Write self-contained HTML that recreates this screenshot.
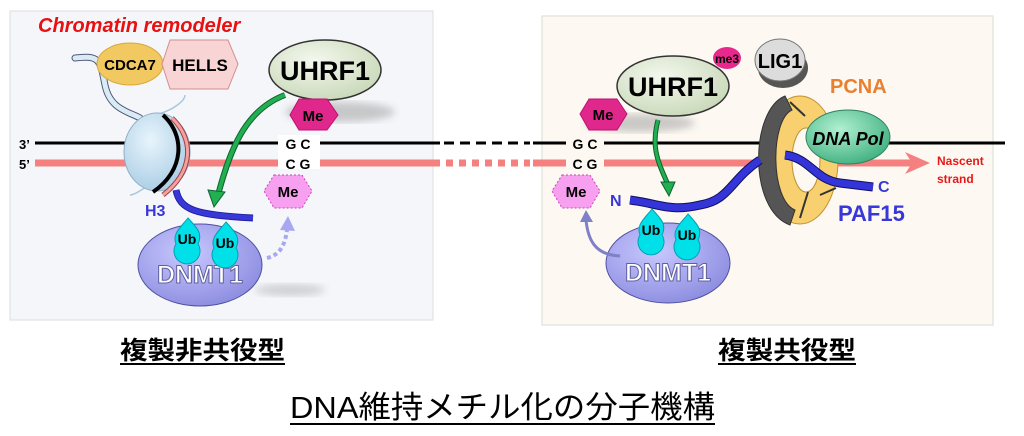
<!DOCTYPE html>
<html><head><meta charset="utf-8"><style>
html,body{margin:0;padding:0;background:#fff;}
svg{display:block;}
text{font-family:"Liberation Sans","Noto Sans CJK JP",sans-serif;}
</style></head><body>
<svg width="1024" height="436" viewBox="0 0 1024 436" xmlns="http://www.w3.org/2000/svg">
<defs>
<radialGradient id="gU" cx="40%" cy="35%" r="70%"><stop offset="0" stop-color="#f4f8ee"/><stop offset="1" stop-color="#c8d8b8"/></radialGradient>
<radialGradient id="gD" cx="40%" cy="35%" r="70%"><stop offset="0" stop-color="#c8c8ff"/><stop offset="1" stop-color="#8c8ce0"/></radialGradient>
<radialGradient id="gP" cx="40%" cy="35%" r="70%"><stop offset="0" stop-color="#b0f0d0"/><stop offset="1" stop-color="#40b080"/></radialGradient>
<radialGradient id="gN" cx="40%" cy="35%" r="70%"><stop offset="0" stop-color="#e8f4fc"/><stop offset="1" stop-color="#a8cce4"/></radialGradient>
<filter id="bl"><feGaussianBlur stdDeviation="4"/></filter>
</defs>
<rect x="10" y="11" width="423" height="309" fill="#f5f6fa" stroke="#dcdde2"/>
<rect x="542" y="16" width="451" height="309" fill="#fdf9f2" stroke="#dcdad6"/>

<line x1="35" y1="143" x2="440" y2="143" stroke="#000" stroke-width="3"/>
<line x1="444" y1="143" x2="530" y2="143" stroke="#000" stroke-width="3" stroke-dasharray="10,6"/>
<line x1="533" y1="143" x2="1005" y2="143" stroke="#000" stroke-width="3"/>
<line x1="35" y1="163" x2="440" y2="163" stroke="#f48080" stroke-width="7"/>
<line x1="446" y1="163" x2="530" y2="163" stroke="#f48080" stroke-width="7" stroke-dasharray="7,6"/>
<line x1="533" y1="163" x2="915" y2="163" stroke="#f48080" stroke-width="7"/>
<polygon points="905,152 930,163 905,174 912,163" fill="#f48080"/>
<text x="19" y="149" font-size="13" font-weight="bold">3’</text>
<text x="19" y="169" font-size="13" font-weight="bold">5’</text>

<text x="38" y="32" font-size="20" font-weight="bold" font-style="italic" fill="#e81010">Chromatin remodeler</text>
<path d="M75,58 C100,55 100,60 105,85 C110,110 130,112 140,118" fill="none" stroke="#557" stroke-width="7" stroke-linecap="round"/>
<path d="M75,58 C100,55 100,60 105,85 C110,110 130,112 140,118" fill="none" stroke="#d8ecf6" stroke-width="5" stroke-linecap="round"/>
<ellipse cx="130" cy="64" rx="33" ry="21" fill="#f2c860" stroke="#d8a840"/>
<text x="130" y="70" font-size="15" font-weight="bold" text-anchor="middle">CDCA7</text>
<polygon points="170,40 228,40 238,64 228,89 170,89 162,64" fill="#f8d4d4" stroke="#d09090"/>
<text x="200" y="71" font-size="17" font-weight="bold" text-anchor="middle">HELLS</text>
<path d="M155,115 C175,110 185,100 185,95" stroke="#a8c8dc" stroke-width="1.5" fill="none"/>
<path d="M150,185 C140,190 135,195 130,195" stroke="#a8c8dc" stroke-width="1.5" fill="none"/>
<ellipse cx="157" cy="152" rx="33" ry="39" fill="url(#gN)" stroke="#90b0c8"/>
<path d="M163,115 C185,135 185,170 153,192" fill="none" stroke="#000" stroke-width="4"/>
<path d="M172,118 C195,140 193,172 163,195" fill="none" stroke="#a04040" stroke-width="5"/>
<path d="M172,118 C195,140 193,172 163,195" fill="none" stroke="#f4a0a0" stroke-width="3"/>
<path d="M176,190 C180,210 195,215 253,218" fill="none" stroke="#2020a0" stroke-width="7"/>
<path d="M176,190 C180,210 195,215 253,218" fill="none" stroke="#3838d8" stroke-width="5"/>
<text x="145" y="216" font-size="16" font-weight="bold" fill="#3838d8">H3</text>
<ellipse cx="340" cy="112" rx="55" ry="10" fill="#999" opacity="0.5" filter="url(#bl)"/>
<ellipse cx="325" cy="70" rx="56" ry="30" fill="url(#gU)" stroke="#333" stroke-width="1.5"/>
<text x="325" y="80" font-size="27" font-weight="bold" text-anchor="middle">UHRF1</text>
<polygon points="299,99 327,99 338,115 327,130 299,130 290,115" fill="#e0288c" stroke="#c01070"/>
<text x="313" y="121" font-size="15" font-weight="bold" text-anchor="middle">Me</text>
<rect x="278" y="135" width="42" height="34" fill="#fff"/>
<text x="298" y="149" font-size="14" font-weight="bold" text-anchor="middle">G C</text>
<text x="298" y="169" font-size="14" font-weight="bold" text-anchor="middle">C G</text>
<polygon points="274,175 302,175 312,191 302,208 274,208 264,191" fill="#f8a0f0" stroke="#d040c0" stroke-dasharray="2,2"/>
<text x="288" y="197" font-size="15" font-weight="bold" text-anchor="middle">Me</text>
<path d="M285,95 C245,110 230,150 218,195" fill="none" stroke="#106030" stroke-width="6"/>
<path d="M285,95 C245,110 230,150 218,195" fill="none" stroke="#20b050" stroke-width="4"/>
<polygon points="208,190 225,192 214,207" fill="#20b050" stroke="#106030"/>
<ellipse cx="290" cy="290" rx="35" ry="6" fill="#999" opacity="0.4" filter="url(#bl)"/>
<ellipse cx="200" cy="265" rx="62" ry="41" fill="url(#gD)" stroke="#5050a0"/>
<text x="200" y="283" font-size="25" font-weight="bold" text-anchor="middle" fill="#fff" stroke="#6060a0" stroke-width="1">DNMT1</text>
<path d="M188,218 C197,228 203,233 198,244 A13,13 0 1 1 176,244 C172,234 180,228 188,218Z" fill="#00e0e8" stroke="#00a0b0"/>
<text x="187" y="244" font-size="14" font-weight="bold" text-anchor="middle">Ub</text>
<path d="M226,222 C235,232 241,237 236,248 A13,13 0 1 1 214,248 C210,238 218,232 226,222Z" fill="#00e0e8" stroke="#00a0b0"/>
<text x="225" y="248" font-size="14" font-weight="bold" text-anchor="middle">Ub</text>
<path d="M267,258 C280,255 285,245 287,230" fill="none" stroke="#a8a8f0" stroke-width="4" stroke-dasharray="4,3"/>
<polygon points="280,230 288,216 295,231" fill="#a8a8f0"/>

<ellipse cx="640" cy="123" rx="55" ry="9" fill="#999" opacity="0.5" filter="url(#bl)"/>
<ellipse cx="783" cy="68" rx="25" ry="20" fill="#555"/>
<ellipse cx="780" cy="60" rx="25" ry="21" fill="#dcdcdc" stroke="#777"/>
<text x="780" y="68" font-size="20" font-weight="bold" text-anchor="middle">LIG1</text>
<ellipse cx="727" cy="58" rx="14" ry="11" fill="#e8288c"/>
<text x="727" y="63" font-size="12" font-weight="bold" text-anchor="middle">me3</text>
<ellipse cx="673" cy="86" rx="56" ry="30" fill="url(#gU)" stroke="#333" stroke-width="1.5"/>
<text x="673" y="96" font-size="27" font-weight="bold" text-anchor="middle">UHRF1</text>
<polygon points="589,99 617,99 627,114 617,130 589,130 580,114" fill="#e0288c" stroke="#c01070"/>
<text x="603" y="120" font-size="15" font-weight="bold" text-anchor="middle">Me</text>
<rect x="566" y="135" width="38" height="34" fill="#fdf9f2"/>
<text x="585" y="149" font-size="14" font-weight="bold" text-anchor="middle">G C</text>
<text x="585" y="169" font-size="14" font-weight="bold" text-anchor="middle">C G</text>
<polygon points="562,175 590,175 600,191 590,208 562,208 552,191" fill="#f8a0f0" stroke="#d040c0" stroke-dasharray="2,2"/>
<text x="576" y="197" font-size="15" font-weight="bold" text-anchor="middle">Me</text>
<text x="610" y="206" font-size="16" font-weight="bold" fill="#3838d8">N</text>
<text x="830" y="93" font-size="20" font-weight="bold" fill="#e88030">PCNA</text>
<ellipse cx="800" cy="160" rx="38" ry="64" fill="#f8d070" stroke="#c09030"/>
<ellipse cx="806" cy="160" rx="14" ry="32" fill="#fdf9f2" stroke="#c09030"/>
<path d="M785,96 C750,110 748,210 790,225 L795,210 C770,200 770,120 792,110Z" fill="#555" stroke="#333"/>
<line x1="790" y1="102" x2="805" y2="116" stroke="#333" stroke-width="2"/>
<line x1="800" y1="218" x2="808" y2="192" stroke="#333" stroke-width="2"/>
<line x1="820" y1="195" x2="836" y2="188" stroke="#333" stroke-width="2"/>
<path d="M630,200 C660,204 670,212 700,205 C730,200 730,180 760,160" fill="none" stroke="#101060" stroke-width="9"/>
<path d="M630,200 C660,204 670,212 700,205 C730,200 730,180 760,160" fill="none" stroke="#3434d8" stroke-width="7"/>
<ellipse cx="848" cy="137" rx="42" ry="27" fill="url(#gP)" stroke="#308060"/>
<text x="848" y="145" font-size="18" font-weight="bold" font-style="italic" text-anchor="middle">DNA Pol</text>
<path d="M785,155 C810,158 815,180 840,183 L873,187" fill="none" stroke="#101060" stroke-width="9"/>
<path d="M785,155 C810,158 815,180 840,183 L873,187" fill="none" stroke="#3434d8" stroke-width="7"/>
<text x="878" y="192" font-size="16" font-weight="bold" fill="#3838d8">C</text>
<text x="838" y="221" font-size="22" font-weight="bold" fill="#3838d8">PAF15</text>
<text x="937" y="165" font-size="12" font-weight="bold" fill="#e81818">Nascent</text>
<text x="937" y="183" font-size="12" font-weight="bold" fill="#e81818">strand</text>
<path d="M658,120 C650,150 660,165 668,185" fill="none" stroke="#106030" stroke-width="5"/>
<path d="M658,120 C650,150 660,165 668,185" fill="none" stroke="#20b050" stroke-width="3"/>
<polygon points="661,182 675,182 669,196" fill="#20b050" stroke="#106030"/>
<ellipse cx="668" cy="263" rx="62" ry="40" fill="url(#gD)" stroke="#5050a0"/>
<text x="668" y="281" font-size="25" font-weight="bold" text-anchor="middle" fill="#fff" stroke="#6060a0" stroke-width="1">DNMT1</text>
<path d="M652,209 C661,219 667,224 662,235 A13,13 0 1 1 640,235 C636,225 644,219 652,209Z" fill="#00e0e8" stroke="#00a0b0"/>
<text x="651" y="235" font-size="14" font-weight="bold" text-anchor="middle">Ub</text>
<path d="M688,214 C697,224 703,229 698,240 A13,13 0 1 1 676,240 C672,230 680,224 688,214Z" fill="#00e0e8" stroke="#00a0b0"/>
<text x="687" y="240" font-size="14" font-weight="bold" text-anchor="middle">Ub</text>
<path d="M620,256 C595,255 588,240 586,220" fill="none" stroke="#8080c8" stroke-width="3"/>
<polygon points="580,222 586,210 593,222" fill="#8080c8"/>

<text x="120" y="359" font-size="25" font-weight="bold" textLength="165" lengthAdjust="spacingAndGlyphs">複製非共役型</text>
<line x1="120" y1="364" x2="285" y2="364" stroke="#000" stroke-width="2"/>
<text x="718" y="359" font-size="25" font-weight="bold" textLength="138" lengthAdjust="spacingAndGlyphs">複製共役型</text>
<line x1="718" y1="364" x2="856" y2="364" stroke="#000" stroke-width="2"/>
<text x="290" y="418" font-size="31" textLength="425" lengthAdjust="spacingAndGlyphs">DNA維持メチル化の分子機構</text>
<line x1="290" y1="424" x2="715" y2="424" stroke="#000" stroke-width="2"/>
</svg>
</body></html>
